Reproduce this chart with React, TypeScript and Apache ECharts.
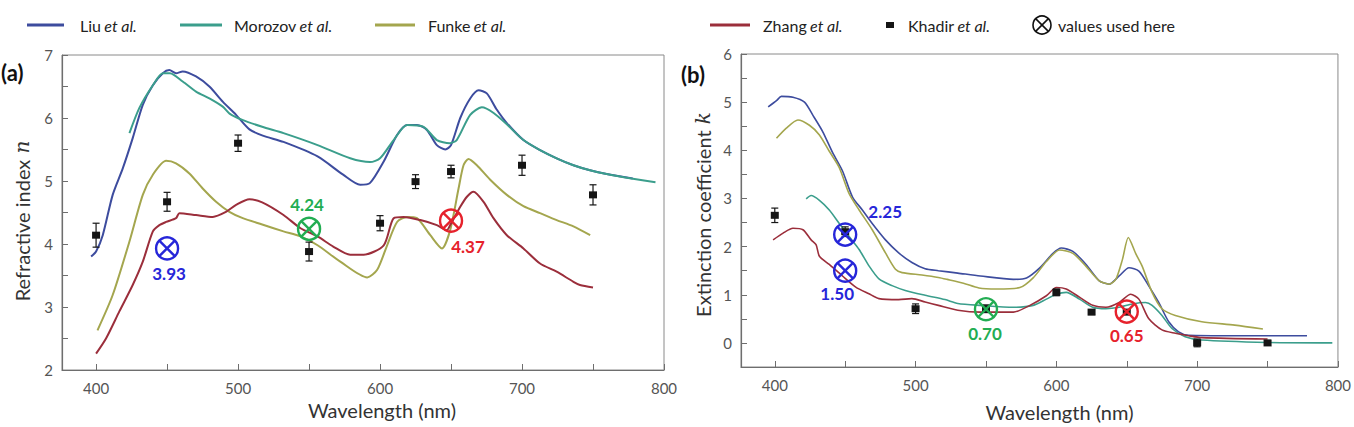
import React, { useEffect, useRef } from "react";
import * as echarts from "echarts";

const FONT = 'Lato, "Open Sans", sans-serif';

// Series colours
const C_LIU = "#3d4c9e";
const C_MOROZOV = "#3b9e8c";
const C_FUNKE = "#a4a64e";
const C_ZHANG = "#9b2e3b";
const C_KHADIR = "#151515";

// ---- (a) refractive index n vs wavelength (nm) ----
const liuN: [number, number][] = [
  [396.5, 3.8], [400, 3.88], [404.7, 4.14], [411.7, 4.78], [418.8, 5.2], [425.8, 5.68],
  [432.9, 6.21], [440, 6.52], [447, 6.71], [451.6, 6.76], [456.3, 6.71], [461, 6.74],
  [470.4, 6.66], [479.8, 6.5], [489.2, 6.26], [498.6, 6.05], [508, 5.82], [517.4, 5.72],
  [532, 5.62], [556, 5.39], [574, 5.1], [586, 4.94], [593, 4.97], [602.6, 5.31],
  [612, 5.73], [619, 5.89], [626, 5.89], [633, 5.81], [640, 5.57], [646, 5.5],
  [650, 5.57], [656.5, 6.0], [663.5, 6.31], [669.4, 6.44], [675.2, 6.39], [682.3, 6.13],
  [689.3, 5.92], [701, 5.65], [712.7, 5.49], [724.4, 5.36], [736.2, 5.25], [747.9, 5.17],
  [759.6, 5.11], [778, 5.04],
];
const morozovN: [number, number][] = [
  [423.5, 5.76], [430.5, 6.16], [440, 6.52], [447, 6.71], [452, 6.71], [461, 6.58],
  [470.4, 6.42], [479.8, 6.31], [489.2, 6.18], [494, 6.07], [503, 5.97], [517, 5.86],
  [532, 5.76], [556, 5.57], [579, 5.36], [593, 5.3], [600, 5.36], [609.6, 5.65],
  [619, 5.89], [630.7, 5.86], [640, 5.65], [649, 5.6], [654, 5.65], [663.5, 6.05],
  [671.7, 6.17], [680, 6.08], [689.3, 5.9], [701, 5.65], [712.7, 5.49], [724.4, 5.36],
  [736.2, 5.25], [747.9, 5.17], [759.6, 5.11], [777, 5.04], [794, 4.98],
];
const funkeN: [number, number][] = [
  [401, 2.63], [411.7, 3.19], [423.5, 4.04], [432.9, 4.78], [440, 5.1], [449.3, 5.32],
  [456.3, 5.28], [465.7, 5.12], [475.1, 4.88], [484.5, 4.67], [493.9, 4.51], [503.3, 4.41],
  [517, 4.31], [532, 4.2], [544, 4.12], [556, 3.98], [572, 3.72], [591, 3.47],
  [598, 3.59], [605, 3.98], [612, 4.35], [619, 4.43], [626, 4.41], [635.4, 4.14],
  [643.6, 3.93], [649.4, 4.22], [655.3, 4.88], [658.8, 5.25], [662.3, 5.35], [668.2, 5.25],
  [677.6, 5.02], [689.3, 4.78], [701, 4.6], [712.7, 4.49], [724.4, 4.38], [736.2, 4.28],
  [748, 4.14],
];
const zhangN: [number, number][] = [
  [400, 2.26], [407, 2.5], [416.4, 2.93], [425.8, 3.35], [432.9, 3.72], [440, 4.2],
  [444.6, 4.3], [449.3, 4.35], [456.3, 4.41], [458.7, 4.49], [470.4, 4.46], [482.2, 4.43],
  [491.5, 4.51], [498.6, 4.62], [508, 4.71], [517, 4.66], [532, 4.46], [544, 4.25],
  [556, 4.12], [567, 3.96], [579, 3.83], [588.5, 3.83], [602.6, 3.98], [609.6, 4.41],
  [616.6, 4.43], [628.4, 4.38], [640, 4.3], [647, 4.22], [649.4, 4.3], [656.5, 4.59],
  [661.2, 4.75], [665.8, 4.83], [672.9, 4.67], [679.9, 4.41], [689.3, 4.14], [701, 3.93],
  [712.7, 3.69], [724.4, 3.56], [736.2, 3.4], [740.8, 3.35], [750, 3.31],
];
const khadirWl = [400, 450, 500, 550, 600, 625, 650, 700, 750];
const khadirN = [4.14, 4.67, 5.6, 3.88, 4.33, 4.99, 5.15, 5.25, 4.78];
const khadirNErr = [0.19, 0.15, 0.13, 0.15, 0.12, 0.11, 0.1, 0.16, 0.16];
const usedWlN = [450, 550, 650];
const usedN = [3.93, 4.24, 4.37];

// ---- (b) extinction coefficient k vs wavelength (nm) ----
const liuK: [number, number][] = [
  [395.3, 4.9], [401.2, 5.03], [404.7, 5.12], [412.9, 5.1], [421.1, 5.0], [427, 4.73],
  [434, 4.39], [441.1, 3.95], [448.1, 3.57], [455.2, 3.03], [462.2, 2.76], [469.2, 2.48],
  [478.6, 2.14], [488, 1.87], [497.4, 1.67], [506.8, 1.54], [516.2, 1.5], [530, 1.45],
  [546, 1.39], [569.5, 1.32], [578.8, 1.35], [588.2, 1.56], [597.6, 1.86], [603.5, 1.97],
  [611.7, 1.9], [621.1, 1.63], [630.5, 1.29], [637.5, 1.22], [644.6, 1.39], [651.6, 1.56],
  [658.6, 1.49], [665.7, 1.18], [672.7, 0.84], [679.8, 0.44], [686.8, 0.23], [693.9, 0.16],
  [726.7, 0.15], [778, 0.15],
];
const morozovK: [number, number][] = [
  [422.3, 2.99], [425.8, 3.06], [431.7, 2.96], [438.7, 2.76], [445.8, 2.48], [452.8, 2.21],
  [459.9, 1.94], [466.9, 1.6], [474, 1.33], [483.3, 1.19], [492.7, 1.09], [506.8, 0.99],
  [520.9, 0.9], [530, 0.82], [546, 0.78], [569.5, 0.74], [583.5, 0.78], [592.9, 0.91],
  [600, 1.01], [607, 1.05], [616.4, 0.91], [625.8, 0.74], [635.2, 0.71], [644.6, 0.74],
  [654, 0.81], [663.3, 0.84], [668, 0.78], [675, 0.57], [682.1, 0.3], [691.5, 0.13],
  [703.3, 0.06], [750, 0.01], [796, 0.0],
];
const funkeK: [number, number][] = [
  [401.2, 4.25], [408.2, 4.46], [416.4, 4.63], [424.6, 4.52], [431.7, 4.32], [438.7, 3.98],
  [445.8, 3.64], [452.8, 3.1], [459.9, 2.76], [469.2, 2.35], [478.6, 1.87], [485.7, 1.53],
  [490.4, 1.46], [504.5, 1.41], [516.2, 1.36], [522.5, 1.32], [534, 1.24], [545, 1.14],
  [557.7, 1.12], [574.1, 1.15], [583.5, 1.35], [592.9, 1.69], [602.3, 1.93], [611.7, 1.86],
  [621.1, 1.59], [630.5, 1.29], [637.5, 1.22], [642.2, 1.32], [646.9, 1.73], [651.1, 2.19],
  [656.3, 1.86], [661, 1.59], [668, 1.05], [675, 0.71], [684.5, 0.57], [703.3, 0.44],
  [726.7, 0.37], [746.7, 0.29],
];
const zhangK: [number, number][] = [
  [398.8, 2.14], [405.9, 2.28], [412.9, 2.38], [420, 2.35], [425.8, 2.14], [429.3, 2.04],
  [431.7, 1.8], [438.7, 1.63], [448.1, 1.39], [457.5, 1.16], [466.9, 1.02], [474, 0.92],
  [488, 0.9], [497.4, 0.92], [506.8, 0.85], [516.2, 0.78], [530, 0.68], [546, 0.64],
  [569.5, 0.64], [581.2, 0.78], [592.9, 0.98], [600, 1.15], [607, 1.12], [616.4, 0.95],
  [625.8, 0.78], [635.2, 0.74], [644.6, 0.84], [652.8, 1.01], [658.6, 0.91], [665.7, 0.5],
  [675, 0.27], [684.5, 0.2], [693.9, 0.15], [703.3, 0.11], [750, 0.08],
];
const khadirK = [2.65, 2.31, 0.71, 0.71, 1.05, 0.64, 0.64, 0.0, 0.0];
const khadirKErr = [0.15, 0.1, 0.1, 0.08, 0.07, 0.05, 0.05, 0.08, 0.05];
const usedWlK = [450, 450, 550, 650];
const usedK = [2.25, 1.5, 0.7, 0.65];

// Tick values
const xTicks = [400, 450, 500, 550, 600, 650, 700, 750, 800];
const xLabels = [400, 500, 600, 700, 800];

// Styling of the "values used here" markers (colour and label offset in px)
const BLUE = "#2626d9";
const GREEN = "#22ad52";
const RED = "#e6222c";
const usedStyleN = [
  { color: BLUE, dx: 2, dy: 25 },
  { color: GREEN, dx: -2, dy: -24 },
  { color: RED, dx: 17, dy: 26 },
];
const usedStyleK = [
  { color: BLUE, dx: 40, dy: -23 },
  { color: BLUE, dx: -8, dy: 23 },
  { color: GREEN, dx: -1, dy: 24 },
  { color: RED, dx: 0, dy: 24 },
];

function errorBarItem(_params: any, api: any) {
  const x = api.value(0);
  const y = api.value(1);
  const e = api.value(2);
  const c = api.coord([x, y]);
  const t = api.coord([x, y + e]);
  const b = api.coord([x, y - e]);
  const lw = { stroke: C_KHADIR, lineWidth: 1.2 };
  return {
    type: "group",
    children: [
      { type: "line", shape: { x1: c[0], y1: t[1], x2: c[0], y2: b[1] }, style: lw },
      { type: "line", shape: { x1: c[0] - 3.5, y1: t[1], x2: c[0] + 3.5, y2: t[1] }, style: lw },
      { type: "line", shape: { x1: c[0] - 3.5, y1: b[1], x2: c[0] + 3.5, y2: b[1] }, style: lw },
      { type: "rect", shape: { x: c[0] - 4, y: c[1] - 3.5, width: 8, height: 7 }, style: { fill: C_KHADIR } },
    ],
  };
}

function usedMarker(styles: { color: string; dx: number; dy: number }[]) {
  return (params: any, api: any) => {
    const v = api.value(1);
    const p = api.coord([api.value(0), v]);
    const s = styles[params.dataIndex];
    const r = 11;
    const d = r * 0.7071;
    const st = { stroke: s.color, lineWidth: 2.4, fill: "none" };
    return {
      type: "group",
      children: [
        { type: "circle", shape: { cx: p[0], cy: p[1], r }, style: st },
        { type: "line", shape: { x1: p[0] - d, y1: p[1] - d, x2: p[0] + d, y2: p[1] + d }, style: st },
        { type: "line", shape: { x1: p[0] - d, y1: p[1] + d, x2: p[0] + d, y2: p[1] - d }, style: st },
        {
          type: "text",
          x: p[0] + s.dx,
          y: p[1] + s.dy,
          style: {
            text: v.toFixed(2),
            fill: s.color,
            font: `bold 17px ${FONT}`,
            align: "center",
            verticalAlign: "middle",
            textAlign: "center",
            textVerticalAlign: "middle",
          },
        },
      ],
    };
  };
}

function lineSeries(name: string, data: [number, number][], color: string, idx: number, width: number) {
  return {
    name,
    type: "line",
    xAxisIndex: idx,
    yAxisIndex: idx,
    data,
    symbol: "none",
    smooth: 0.25,
    lineStyle: { color, width },
    itemStyle: { color },
    z: 2,
  };
}

const axisCommon = {
  axisLine: { show: true, onZero: false, lineStyle: { color: "#6e6e6e", width: 1.2 } },
  axisTick: { show: true, inside: true, length: 6, lineStyle: { color: "#6e6e6e" } },
  splitLine: { show: false },
};

function xAxis(idx: number, shift: number, gap: number) {
  return {
    type: "value",
    gridIndex: idx,
    min: 376,
    max: 800,
    ...axisCommon,
    axisTick: { ...axisCommon.axisTick, customValues: xTicks },
    axisLabel: { customValues: xLabels, color: "#555", fontSize: 15, fontFamily: FONT, margin: 10 },
    name: "Wavelength (nm)",
    nameLocation: "middle",
    nameGap: gap,
    nameTextStyle: { color: "#333", fontSize: 20, fontFamily: FONT, padding: [0, 0, 0, shift] },
  };
}

function yAxis(idx: number, min: number, max: number, label: string, sym: string, gap: number, pad: number) {
  return {
    type: "value",
    gridIndex: idx,
    min,
    max,
    interval: 0.5,
    ...axisCommon,
    axisLabel: {
      color: "#555",
      fontSize: 15,
      fontFamily: FONT,
      margin: 9,
      formatter: (v: number) => (Number.isInteger(v) ? String(v) : ""),
    },
    name: `{r|${label}}  {i|${sym}}`,
    nameLocation: "middle",
    nameGap: gap,
    nameTextStyle: {
      padding: [0, pad, 0, 0],
      rich: {
        r: { color: "#333", fontSize: 20, fontFamily: FONT },
        i: { color: "#333", fontSize: 20, fontFamily: "DejaVu Serif, serif", fontStyle: "italic" },
      },
    },
  };
}

function legendGraphic() {
  const y = 25;
  const textStyle = (x: number, main: string) => ({
    type: "text",
    x,
    y,
    style: {
      text: `{n|${main}} {i|et al.}`,
      verticalAlign: "middle",
      textVerticalAlign: "middle",
      rich: {
        n: { fontSize: 16, fontFamily: FONT, fill: "#222", color: "#222" },
        i: { fontSize: 16, fontFamily: FONT, fontStyle: "italic", fill: "#222", color: "#222" },
      },
    },
  });
  const lineItem = (x1: number, x2: number, color: string) => ({
    type: "line",
    shape: { x1, y1: y, x2, y2: y },
    style: { stroke: color, lineWidth: 2.8 },
  });
  const xs = 1042;
  const d = 9 * 0.7071;
  return [
    lineItem(27, 64, C_LIU),
    textStyle(80, "Liu"),
    lineItem(180, 222, C_MOROZOV),
    textStyle(234, "Morozov"),
    lineItem(375, 415, C_FUNKE),
    textStyle(428, "Funke"),
    lineItem(710, 750, C_ZHANG),
    textStyle(763, "Zhang"),
    { type: "rect", shape: { x: 886, y: y - 3, width: 8, height: 6 }, style: { fill: C_KHADIR } },
    textStyle(908, "Khadir"),
    { type: "circle", shape: { cx: xs, cy: y, r: 9 }, style: { fill: "none", stroke: "#111", lineWidth: 1.6 } },
    { type: "line", shape: { x1: xs - d, y1: y - d, x2: xs + d, y2: y + d }, style: { stroke: "#111", lineWidth: 1.6 } },
    { type: "line", shape: { x1: xs - d, y1: y + d, x2: xs + d, y2: y - d }, style: { stroke: "#111", lineWidth: 1.6 } },
    {
      type: "text",
      x: 1058,
      y,
      style: { text: "values used here", fontSize: 16, fontFamily: FONT, fill: "#222", verticalAlign: "middle", textVerticalAlign: "middle" },
    },
    {
      type: "text",
      x: 1,
      y: 72,
      style: { text: "(a)", fontSize: 22, fontWeight: "bold", fontFamily: FONT, fill: "#111", verticalAlign: "middle", textVerticalAlign: "middle" },
    },
    {
      type: "text",
      x: 681,
      y: 74,
      style: { text: "(b)", fontSize: 22, fontWeight: "bold", fontFamily: FONT, fill: "#111", verticalAlign: "middle", textVerticalAlign: "middle" },
    },
  ];
}

export default function App() {
  const ref = useRef<HTMLDivElement>(null);

  useEffect(() => {
    if (!ref.current) return;
    const chart = echarts.init(ref.current, undefined, { renderer: "svg" });
    const option = {
      animation: false,
      backgroundColor: "#ffffff",
      textStyle: { fontFamily: FONT },
      grid: [
        { left: 62, top: 55, width: 602, height: 315, show: true, borderColor: "#8a8a8a", borderWidth: 1, backgroundColor: "transparent" },
        { left: 741, top: 54, width: 603, height: 318, show: true, borderColor: "#8a8a8a", borderWidth: 1, backgroundColor: "transparent" },
      ],
      xAxis: [xAxis(0, 38, 30), xAxis(1, 40, 35)],
      yAxis: [
        yAxis(0, 2, 7, "Refractive index", "n", 30, 17),
        yAxis(1, -0.5, 6, "Extinction coefficient", "k", 28, 8),
      ],
      graphic: legendGraphic(),
      series: [
        lineSeries("Liu et al.", liuN, C_LIU, 0, 2),
        lineSeries("Morozov et al.", morozovN, C_MOROZOV, 0, 2),
        lineSeries("Funke et al.", funkeN, C_FUNKE, 0, 2),
        lineSeries("Zhang et al.", zhangN, C_ZHANG, 0, 2),
        lineSeries("Liu et al.", liuK, C_LIU, 1, 1.6),
        lineSeries("Funke et al.", funkeK, C_FUNKE, 1, 1.6),
        lineSeries("Morozov et al.", morozovK, C_MOROZOV, 1, 1.6),
        lineSeries("Zhang et al.", zhangK, C_ZHANG, 1, 1.6),
        {
          name: "Khadir et al.",
          type: "custom",
          xAxisIndex: 0,
          yAxisIndex: 0,
          data: khadirWl.map((w, i) => [w, khadirN[i], khadirNErr[i]]),
          renderItem: errorBarItem,
          z: 3,
        },
        {
          name: "Khadir et al.",
          type: "custom",
          xAxisIndex: 1,
          yAxisIndex: 1,
          data: khadirWl.map((w, i) => [w, khadirK[i], khadirKErr[i]]),
          renderItem: errorBarItem,
          z: 3,
        },
        {
          name: "values used here",
          type: "custom",
          xAxisIndex: 0,
          yAxisIndex: 0,
          data: usedWlN.map((w, i) => [w, usedN[i]]),
          renderItem: usedMarker(usedStyleN),
          z: 4,
        },
        {
          name: "values used here",
          type: "custom",
          xAxisIndex: 1,
          yAxisIndex: 1,
          data: usedWlK.map((w, i) => [w, usedK[i]]),
          renderItem: usedMarker(usedStyleK),
          z: 4,
        },
      ],
    };
    chart.setOption(option as any);
    return () => chart.dispose();
  }, []);

  return (
    <div
      ref={ref}
      style={{ position: "absolute", left: 0, top: 0, width: 1354, height: 427, background: "#fff" }}
    />
  );
}
